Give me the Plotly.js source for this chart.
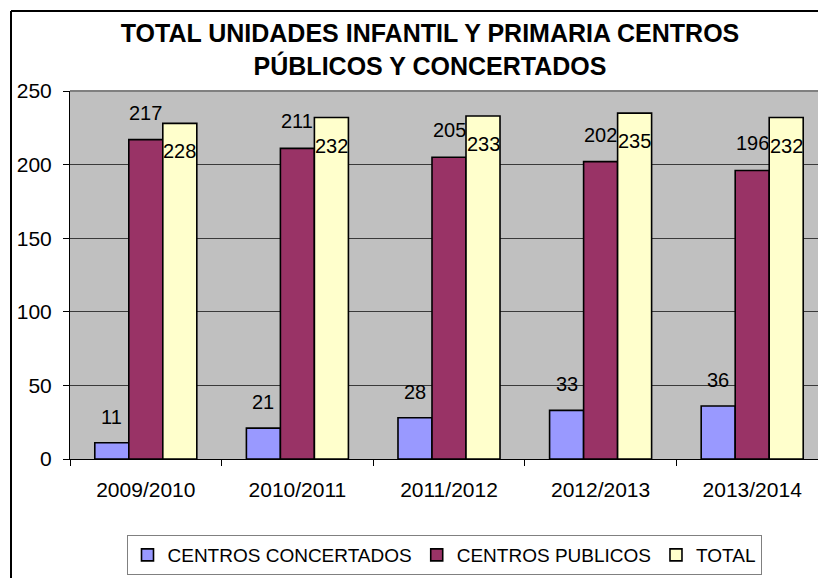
<!DOCTYPE html>
<html>
<head>
<meta charset="utf-8">
<script src="https://cdn.plot.ly/plotly-3.0.1.min.js"></script>
<style>html,body{margin:0;padding:0;background:#fff;}#chart{width:818px;height:578px;}</style>
</head>
<body>
<div id="chart"></div>
<script>
const categories = ['2009/2010', '2010/2011', '2011/2012', '2012/2013', '2013/2014'];
const concertados = [11, 21, 28, 33, 36];
const publicos = [217, 211, 205, 202, 196];
const total = [228, 232, 233, 235, 232];
const seriesNames = ['CENTROS CONCERTADOS', 'CENTROS PUBLICOS', 'TOTAL'];
const yTicks = [0, 50, 100, 150, 200, 250];

const FONT = '"Liberation Sans", Arimo, Arial, sans-serif';
const colors = ['#9999ff', '#993366', '#ffffcc'];
const seriesValues = [concertados, publicos, total];
const bargap = 0.327;
const barW = (1 - bargap) / 3;

const traces = seriesValues.map((vals, i) => ({
  type: 'bar',
  name: seriesNames[i],
  x: categories,
  y: vals,
  marker: {color: colors[i], line: {color: '#000000', width: 1.6}},
  hoverinfo: 'x+y+name'
}));

// data labels: above for first two series, just inside the top for TOTAL
const labelShift = [26, 27, -28];
const annotations = [];
seriesValues.forEach((vals, i) => {
  vals.forEach((v, k) => {
    annotations.push({
      x: k + (i - 1) * barW, y: v, xref: 'x', yref: 'y',
      text: String(v), showarrow: false,
      xanchor: 'center', yanchor: 'middle', yshift: labelShift[i],
      font: {family: FONT, size: 20, color: '#000000'}
    });
  });
});

const layout = {
  width: 818, height: 578, autosize: false,
  margin: {l: 70, r: 0, t: 91, b: 119, pad: 0},
  paper_bgcolor: '#ffffff',
  plot_bgcolor: '#c0c0c0',
  font: {family: FONT, size: 20, color: '#000000'},
  title: {
    text: 'TOTAL UNIDADES INFANTIL Y PRIMARIA CENTROS<br>PÚBLICOS Y CONCERTADOS',
    font: {family: FONT, size: 25, weight: 'bold', color: '#000000'},
    xref: 'container', yref: 'container',
    x: 430 / 818, xanchor: 'center',
    y: 1 - 42 / 578, yanchor: 'top'
  },
  barmode: 'group',
  bargap: bargap,
  bargroupgap: 0,
  showlegend: true,
  legend: {
    orientation: 'h',
    x: 0.5, xanchor: 'center',
    y: (459 - 535) / 368, yanchor: 'top',
    bgcolor: '#ffffff', bordercolor: '#808080', borderwidth: 1,
    font: {family: FONT, size: 19, color: '#000000'},
    traceorder: 'normal'
  },
  xaxis: {
    type: 'category',
    range: [-0.5, -0.5 + 748 / 151.6],
    showline: true, linecolor: '#000000', linewidth: 1,
    ticks: 'outside', tickson: 'boundaries', ticklen: 6, tickcolor: '#000000',
    showgrid: false, zeroline: false,
    tickfont: {family: FONT, size: 21, color: '#000000'},
    ticklabelstandoff: 12,
    fixedrange: true
  },
  yaxis: {
    range: [0, 250],
    tickvals: yTicks,
    showline: true, linecolor: '#000000', linewidth: 1,
    ticks: 'outside', ticklen: 6, tickcolor: '#000000',
    showgrid: true, gridcolor: '#3a3a3a', gridwidth: 1,
    zeroline: false,
    tickfont: {family: FONT, size: 21, color: '#000000'},
    ticklabelstandoff: 7,
    fixedrange: true
  },
  annotations: annotations,
  shapes: [
    {type: 'line', xref: 'paper', yref: 'paper', x0: 0, x1: 1.02, y0: 1, y1: 1,
     line: {color: '#808080', width: 2}},
    {type: 'line', xref: 'paper', yref: 'paper', x0: (11 - 70) / 748, x1: (11 - 70) / 748,
     y0: (459 - 590) / 368, y1: (459 - 11) / 368, line: {color: '#000000', width: 2}},
    {type: 'line', xref: 'paper', yref: 'paper', x0: (11 - 70) / 748, x1: 1.05,
     y0: (459 - 11) / 368, y1: (459 - 11) / 368, line: {color: '#000000', width: 2}}
  ]
};

Plotly.newPlot('chart', traces, layout, {displayModeBar: false, staticPlot: true});
</script>
</body>
</html>
